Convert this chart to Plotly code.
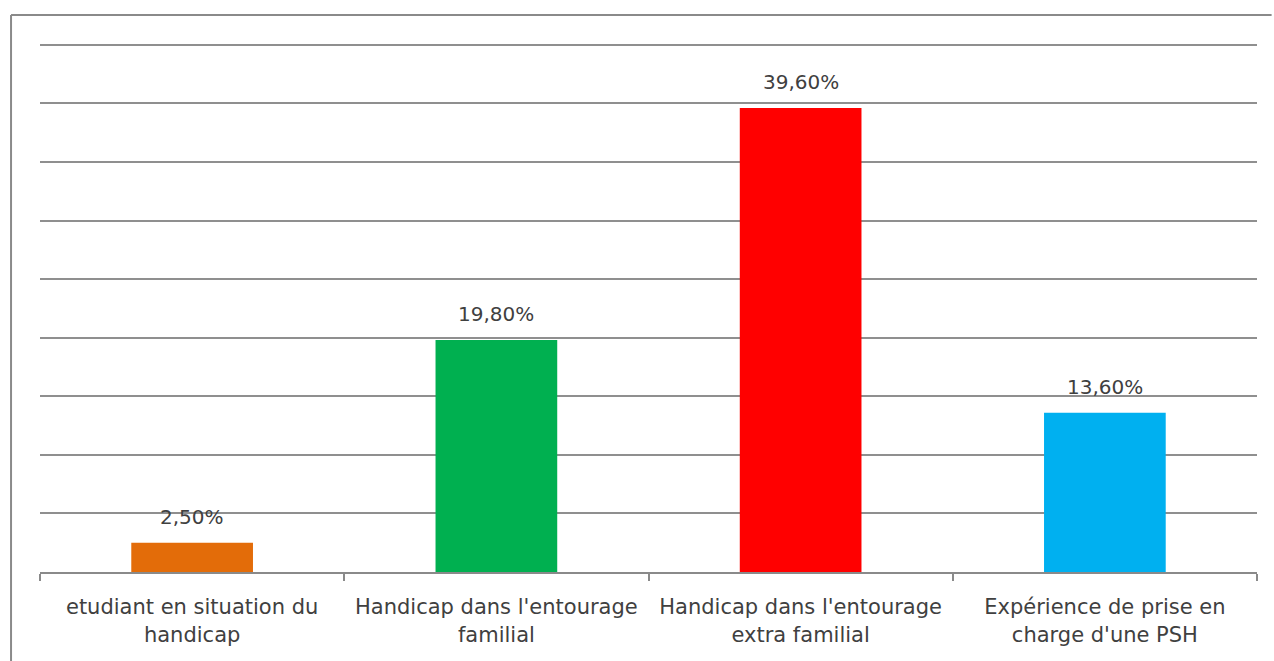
import plotly.graph_objects as go

categories = ["etudiant en situation du<br>handicap",
              "Handicap dans l'entourage<br>familial",
              "Handicap dans l'entourage<br>extra familial",
              "Expérience de prise en<br>charge d'une PSH"]
values = [2.5, 19.8, 39.6, 13.6]
value_labels = ["2,50%", "19,80%", "39,60%", "13,60%"]
colors = ["#E36C09", "#00B050", "#FF0000", "#00B0F0"]

FONT = "DejaVu Sans"
TXT = "#404040"

fig = go.Figure()
fig.add_trace(go.Bar(
    x=categories, y=values, marker=dict(color=colors, line=dict(width=0)),
    width=0.4, showlegend=False, hoverinfo="skip"))

for c, v, t in zip(categories, values, value_labels):
    fig.add_annotation(x=c, y=v, text=t, showarrow=False, yanchor="bottom",
                       yshift=12, font=dict(family=FONT, size=20, color=TXT))

# outer frame (left and top edges)
fig.add_shape(type="line", xref="paper", yref="paper",
              x0=-0.0238, x1=-0.0238, y0=-0.17, y1=1.045,
              line=dict(color="#8a8a8a", width=2))
fig.add_shape(type="line", xref="paper", yref="paper",
              x0=-0.0238, x1=1.012, y0=1.045, y1=1.045,
              line=dict(color="#8a8a8a", width=2))

fig.update_layout(
    width=1274, height=661,
    margin=dict(l=40, r=17, t=39, b=89),
    paper_bgcolor="white", plot_bgcolor="white",
    font=dict(family=FONT, size=21, color=TXT),
    xaxis=dict(type="category", tickson="boundaries", ticks="outside",
               ticklen=7, tickcolor="#8a8a8a", tickwidth=1.5,
               showline=True, linecolor="#8a8a8a", linewidth=2,
               tickfont=dict(family=FONT, size=21, color=TXT),
               ticklabelstandoff=15,
               showgrid=False),
    yaxis=dict(range=[0, 45.5], tickvals=[5, 10, 15, 20, 25, 30, 35, 40, 45],
               showticklabels=False,
               showgrid=True, gridcolor="#8f8f8f", gridwidth=2,
               zeroline=False, showline=False, ticks=""),
    bargap=0.6,
)

fig.write_html("out.html")
